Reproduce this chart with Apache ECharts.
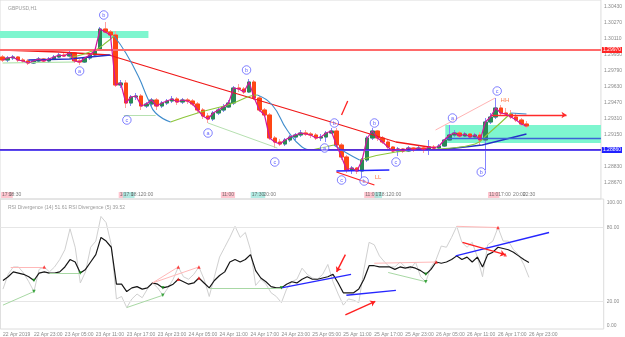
<!DOCTYPE html>
<html>
<head>
<meta charset="utf-8">
<script src="https://cdn.jsdelivr.net/npm/echarts@6/dist/echarts.min.js"></script>
<style>
  html, body { margin: 0; padding: 0; background: #fff; }
  #chart { width: 625px; height: 337px; }
</style>
</head>
<body>
<div id="chart"></div>
<script>
// GBPUSD H1, 22 Apr 17:00 .. 26 Apr 23:00 (103 bars), right margin left empty
const barCount = 103;
const slotCount = 117;

const opens = [
  1.2993,1.2990,1.2992,1.2993,1.2990,1.2989,1.2987,1.2989,1.2991,1.2989,
  1.2991,1.2993,1.2995,1.2994,1.2997,1.2989,1.2988,1.2992,1.2995,1.3000,
  1.3021,1.3018,1.3015,1.2965,1.2967,1.2947,1.2953,1.2954,1.2944,1.2946,
  1.2950,1.2944,1.2947,1.2949,1.2951,1.2948,1.2950,1.2949,1.2946,1.2940,
  1.2934,1.2931,1.2937,1.2940,1.2943,1.2947,1.2962,1.2961,1.2958,1.2968,
  1.2952,1.2940,1.2935,1.2912,1.2908,1.2906,1.2910,1.2913,1.2915,1.2917,
  1.2916,1.2915,1.2912,1.2913,1.2917,1.2919,1.2905,1.2893,1.2880,1.2882,
  1.2879,1.2890,1.2912,1.2919,1.2912,1.2908,1.2903,1.2899,1.2901,1.2899,
  1.2902,1.2900,1.2902,1.2900,1.2903,1.2902,1.2904,1.2910,1.2915,1.2917,
  1.2914,1.2916,1.2913,1.2915,1.2910,1.2928,1.2933,1.2942,1.2937,1.2936,
  1.2933,1.2930,1.2926
];
const closes = [
  1.2990,1.2992,1.2993,1.2990,1.2989,1.2987,1.2989,1.2991,1.2989,1.2991,
  1.2993,1.2995,1.2994,1.2997,1.2989,1.2988,1.2992,1.2995,1.3000,1.3021,
  1.3018,1.3015,1.2965,1.2967,1.2947,1.2953,1.2954,1.2944,1.2946,1.2950,
  1.2944,1.2947,1.2949,1.2951,1.2948,1.2950,1.2949,1.2946,1.2940,1.2934,
  1.2931,1.2937,1.2940,1.2943,1.2947,1.2962,1.2961,1.2958,1.2968,1.2952,
  1.2940,1.2935,1.2912,1.2908,1.2906,1.2910,1.2913,1.2915,1.2917,1.2916,
  1.2915,1.2912,1.2913,1.2917,1.2919,1.2905,1.2893,1.2880,1.2882,1.2879,
  1.2890,1.2912,1.2919,1.2912,1.2908,1.2903,1.2899,1.2901,1.2899,1.2902,
  1.2900,1.2902,1.2900,1.2903,1.2902,1.2904,1.2910,1.2915,1.2917,1.2914,
  1.2916,1.2913,1.2915,1.2910,1.2928,1.2933,1.2942,1.2937,1.2936,1.2933,
  1.2930,1.2926,1.2924
];
const lows = [
  1.2988,1.2988,1.2990,1.2988,1.2987,1.2985,1.2986,1.2987,1.2988,1.2987,
  1.2990,1.2992,1.2993,1.2993,1.2987,1.2985,1.2987,1.2990,1.2993,1.2999,
  1.3017,1.3013,1.2963,1.2962,1.2942,1.2944,1.2950,1.2940,1.2942,1.2944,
  1.2940,1.2942,1.2945,1.2947,1.2945,1.2946,1.2946,1.2944,1.2937,1.2931,
  1.2927,1.2929,1.2935,1.2938,1.2942,1.2945,1.2958,1.2956,1.2957,1.2950,
  1.2938,1.2933,1.2910,1.2902,1.2904,1.2904,1.2908,1.2910,1.2913,1.2914,
  1.2912,1.2910,1.2909,1.2908,1.2916,1.2903,1.2890,1.2877,1.2876,1.2876,
  1.2872,1.2888,1.2910,1.2909,1.2906,1.2901,1.2897,1.2894,1.2897,1.2898,
  1.2898,1.2899,1.2897,1.2895,1.2900,1.2901,1.2903,1.2909,1.2913,1.2912,
  1.2913,1.2911,1.2912,1.2905,1.2880,1.2926,1.2931,1.2935,1.2934,1.2931,
  1.2928,1.2924,1.2922
];
const highs = [
  1.2995,1.2994,1.2995,1.2994,1.2992,1.2991,1.2990,1.2993,1.2992,1.2993,
  1.2995,1.2997,1.2998,1.2999,1.2998,1.2991,1.2993,1.2996,1.3001,1.3023,
  1.3028,1.3020,1.3019,1.2970,1.2970,1.2955,1.2957,1.2956,1.2948,1.2952,
  1.2952,1.2949,1.2951,1.2954,1.2953,1.2952,1.2952,1.2951,1.2948,1.2942,
  1.2937,1.2939,1.2942,1.2946,1.2950,1.2964,1.2966,1.2963,1.2971,1.2970,
  1.2954,1.2942,1.2937,1.2914,1.2911,1.2912,1.2915,1.2917,1.2920,1.2920,
  1.2918,1.2917,1.2916,1.2919,1.2922,1.2922,1.2907,1.2895,1.2884,1.2883,
  1.2892,1.2914,1.2922,1.2920,1.2914,1.2910,1.2904,1.2903,1.2902,1.2904,
  1.2903,1.2904,1.2903,1.2910,1.2905,1.2906,1.2911,1.2925,1.2920,1.2919,
  1.2918,1.2917,1.2917,1.2918,1.2932,1.2937,1.2952,1.2945,1.2942,1.2940,
  1.2937,1.2932,1.2929
];

// RSI Divergence (14) black, RSI Divergence (5) grey
const rsi14 = [
  37,40,44,43,42,40,37,43,44,43, 43,44,48,54,52,43,46,52,58,72,
  69,64,34,34,28,31,32,30,31,35, 34,31,32,34,38,36,34,35,39,35,
  31,37,41,44,52,54,52,54,58,45, 39,36,32,31,31,34,36,35,38,40,
  38,38,39,40,42,35,27,27,27,30, 38,49,49,48,48,48,46,48,47,48,
  47,45,42,46,52,51,52,54,57,54, 56,52,56,48,58,60,64,63,62,60,
  57,54,51.61
];
const rsi5 = [
  30,42,48,48,43,36,28,46,48,44, 48,54,62,79,64,35,44,64,69,89,
  84,66,22,24,15,22,26,23,30,35, 31,25,31,38,48,40,38,42,48,38,
  24,40,56,64,72,81,72,76,62,33, 38,34,27,24,19,30,36,38,47,42,
  39,38,42,50,36,26,17,22,21,19, 46,68,66,57,52,48,48,52,48,46,
  52,40,36,48,54,65,64,72,81,68, 64,68,56,40,66,69,80,69,69,62,
  58,50,39.52
];

const priceTicks = [1.2867,1.2883,1.2899,1.2915,1.2931,1.2947,1.2963,1.2979,1.2995,1.3011,1.3027,1.3043];
const rsiTicks = [0, 20, 80, 100];

// horizontal price levels: top zone line, resistance, minor, last price, support
const levelPrices = [1.2997, 1.2939, 1.2931, 1.2924, 1.2886];

// lines on a bar-position axis: [bar, price]
const redMA = [[0,1.3000],[11,1.2998],[20.7,1.2995],[38,1.2968],[64.6,1.2927],[76.6,1.2908],[84.3,1.2902]];
const navyMA = [
  [[5,1.2990],[13,1.2991],[21,1.2995]],
  [[76.6,1.2900],[84.9,1.2900],[93.4,1.2905],[102,1.2916]]
];
const curveFlat = [[0,1.2987],[14,1.2988]];
const curveUp = [
  [[13,1.2992],[18,1.3000],[20.3,1.3008],[21.7,1.3014]],
  [[32.7,1.2928],[38,1.2937],[44.4,1.2946],[48.3,1.2954],[49.6,1.2955]],
  [[60.2,1.2900],[64.5,1.2905]],
  [[69.5,1.2890],[76.6,1.2898],[85,1.2901],[92,1.2906],[94.5,1.2916],[99,1.2937]]
];
const curveDown = [
  [[21.7,1.3014],[24,1.2997],[26.5,1.2973],[28.4,1.2950],[29.8,1.2937],[32.7,1.2928]],
  [[49.6,1.2955],[52.5,1.2945],[55.4,1.2920],[58.3,1.2903],[60.2,1.2900]],
  [[64.5,1.2905],[67,1.2897],[69.5,1.2890]],
  [[99,1.2937],[102,1.2936]]
];

const zones = [
  [[-0.5,1.3019],[28.4,1.3012]],
  [[86.2,1.2925],[116.5,1.2907]]
];
const zoneMid = [[[86.2,1.2912],[116.5,1.2912]]];
const pinkTrend = [[[84.3,1.2920],[95.9,1.2952]]];
const greenTrend = [[[23.6,1.2935],[29.8,1.2935]],[[40,1.2927],[53.5,1.2902]]];
const blueTrend = [[[65,1.2879],[75.3,1.2880]]];
const redTrend = [[[66,1.2935],[67.2,1.2949]],[[65,1.2878],[72.4,1.2865]]];
const redArrow = [[[95,1.2935],[109.8,1.2935]]];

const waveMarks = [
  [19.7,1.3035,'b'],[15,1.2979,'a'],[24.2,1.2930,'c'],[40,1.2917,'a'],[47.5,1.2980,'b'],
  [53,1.2888,'c'],[62.7,1.2902,'a'],[64.6,1.2927,'b'],[72.4,1.2927,'b'],[66,1.2870,'c'],
  [70.4,1.2869,'b'],[76.6,1.2888,'c'],[87.6,1.2932,'a'],[93.2,1.2878,'b'],[96.3,1.2959,'c']
];
const textMarks = [[97.8,1.2950,'HH'],[73.1,1.2873,'LL']];

// vertical-line time tags along the bottom of the price panel (kind: 1 pink, 2 teal, 0 plain)
const tagPrice = 1.2855;
const timeTags = [
  [-0.3,'17:0',1],[1,'18:30',0],[22.6,'18',1],[23.4,'17:0',2],[24.8,'18:120:00',0],
  [42.5,'11:00',1],[48.3,'17:30',2],[50.6,'20:00',0],
  [70.4,'11:00',1],[72.4,'17',2],[73.1,'18:120:00',0],
  [94.5,'11:0',1],[96.3,'17:00',0],[99.2,'20:00',0],[101.1,'22:30',0]
];

// indicator divergence lines and markers: [bar, rsi]
const divGreen = [[[0,17],[6,28]],[[9,43],[15,43]],[[24,15],[31,25]],[[40,31],[54,31]],[[74.7,43.5],[82,36]]];
const divPink = [[[1.5,48],[8,48]],[[29,35],[34,48]],[[29,35],[38,48]],[[72,51],[84,52]],[[88,81],[96,80]]];
const divBlue = [[[54,31],[67.5,42]],[[66.6,25],[76.2,29]],[[87.8,57],[105.9,76]]];
const divRed = [[[66.4,58],[64.7,44]],[[66.4,9],[72.2,20]],[[89.1,68],[97.4,58]]];
const markGreen = [[6,37],[6,28],[15,43],[31,31],[31,25],[54,31],[82,42],[82,36]];
const markRed = [[8,48],[34,48],[34,38],[38,48],[38,39],[84,52],[96,80],[97.4,58]];

// hourly category names
const categories = [];
const t0 = Date.UTC(2019, 3, 22, 17);
for (let i = 0; i < slotCount; i++) {
  const d = new Date(t0 + i * 3600e3);
  categories.push(d.getUTCDate() + ' Apr ' + String(d.getUTCHours()).padStart(2, '0') + ':00');
}

const candleRows = opens.map((o, i) => [o, closes[i], lows[i], highs[i]]);
const bodyRows = opens.map((o, i) => [o, closes[i], Math.min(o, closes[i]), Math.max(o, closes[i])]);

function segs(list, color, width, arrow) {
  return list.map(s => [
    { coord: s[0], symbol: 'none', lineStyle: { color: color, width: width, type: 'solid' } },
    { coord: s[1], symbol: arrow ? 'arrow' : 'none', symbolSize: 5 }
  ]);
}
function pathSeries(points, color, width, xi, yi, smooth) {
  return {
    type: 'line', xAxisIndex: xi, yAxisIndex: yi, data: points, smooth: !!smooth,
    symbol: 'none', silent: true, z: 4,
    lineStyle: { color: color, width: width }
  };
}

const levelStyle = [
  { line: '#ff6a6a', width: 2, tag: '#ff2626' },
  { line: '#ff1e1e', width: 1.5, tag: '#ff1e1e' },
  { line: '#ffc4c4', width: 1, tag: '#ff5c5c' },
  { line: 'rgba(0,0,0,0)', width: 1, tag: '#5d6b78' },
  { line: '#2222ff', width: 1.5, tag: '#2222ff' }
];
const tagBg = ['transparent', '#ffb8c4', '#9fe6dc'];

const small = 5;
const labelGrey = '#8a8a8a';

const series = [
  { // zones behind the candles
    type: 'line', xAxisIndex: 1, yAxisIndex: 0, data: [], z: 1,
    markArea: { silent: true, itemStyle: { color: '#7ef6cf' },
      data: zones.map(z => [{ coord: z[0] }, { coord: z[1] }]) }
  },
  { // wicks
    type: 'candlestick', xAxisIndex: 0, yAxisIndex: 0, data: candleRows, barWidth: 4, z: 2, silent: true,
    itemStyle: { color: '#8484ff', color0: '#ff9f9f', borderColor: '#8484ff', borderColor0: '#ff9f9f', borderWidth: 1 }
  },
  { // bodies
    type: 'candlestick', xAxisIndex: 0, yAxisIndex: 0, data: bodyRows, barWidth: 4, z: 3, silent: true,
    itemStyle: { color: '#2a8a55', color0: '#ff4614', borderColor: '#2a8a55', borderColor0: '#ff4614', borderWidth: 1 }
  },
  pathSeries(redMA, '#f01818', 1.3, 1, 0),
  pathSeries(navyMA[0], '#2530c8', 1.3, 1, 0),
  pathSeries(navyMA[1], '#2530c8', 1.3, 1, 0),
  pathSeries(curveFlat, '#a6dfa0', 1, 1, 0),
  ...curveUp.map(c => pathSeries(c, '#8cc63a', 1.1, 1, 0, true)),
  ...curveDown.map(c => pathSeries(c, '#3f8ccc', 1.1, 1, 0, true)),
  { // close line
    type: 'line', xAxisIndex: 0, yAxisIndex: 0, data: closes, symbol: 'none', silent: true, z: 5,
    lineStyle: { color: '#d0169e', width: 1.2 }
  },
  { // trend lines and levels
    type: 'line', xAxisIndex: 1, yAxisIndex: 0, data: [], z: 6,
    markLine: {
      silent: true, symbol: ['none', 'none'], animation: false,
      label: { show: false },
      data: [
        ...segs(zoneMid, '#3d63d6', 1.3),
        ...segs(pinkTrend, '#ffb4b4', 1),
        ...segs(greenTrend, '#b6e0b0', 1),
        ...segs(blueTrend, '#2222ff', 1.3),
        ...segs(redTrend, '#ff2020', 1.3),
        ...segs(redArrow, '#ff2a2a', 1.3, true),
        ...levelPrices.map((p, k) => ({
          yAxis: p, symbol: 'none',
          lineStyle: { color: levelStyle[k].line, width: levelStyle[k].width, type: 'solid' },
          label: { show: true, position: 'end', distance: 1, formatter: p.toFixed(5),
            color: '#fff', backgroundColor: levelStyle[k].tag, fontSize: small, padding: [1, 1, 0, 1] }
        }))
      ]
    }
  },
  { // wave letters
    type: 'scatter', xAxisIndex: 1, yAxisIndex: 0, z: 7, silent: true,
    data: waveMarks, symbol: 'circle', symbolSize: 8.5,
    itemStyle: { color: 'rgba(255,255,255,0.6)', borderColor: '#3b3bff', borderWidth: 0.8 },
    label: { show: true, position: 'inside', formatter: p => p.value[2], fontSize: 5.5, color: '#3b3bff' }
  },
  {
    type: 'scatter', xAxisIndex: 1, yAxisIndex: 0, z: 7, silent: true,
    data: textMarks, symbolSize: 0.1,
    label: { show: true, position: 'inside', formatter: p => p.value[2], fontSize: 6, color: '#ff5a1e' }
  },
  {
    type: 'scatter', xAxisIndex: 1, yAxisIndex: 0, z: 7, silent: true, symbolSize: 0.1,
    data: timeTags.map(t => ({ value: [t[0], tagPrice, t[1]],
      label: { backgroundColor: tagBg[t[2]] } })),
    label: { show: true, position: 'right', distance: 0, formatter: p => p.value[2],
      fontSize: small, color: '#555', padding: [1, 1, 0, 1] }
  },
  // indicator panel
  {
    type: 'line', xAxisIndex: 2, yAxisIndex: 1, data: rsi5, symbol: 'none', silent: true, z: 2,
    lineStyle: { color: '#d0d0d0', width: 1 }
  },
  {
    type: 'line', xAxisIndex: 2, yAxisIndex: 1, data: rsi14, symbol: 'none', silent: true, z: 3,
    lineStyle: { color: '#161616', width: 1.2 }
  },
  {
    type: 'line', xAxisIndex: 3, yAxisIndex: 1, data: [], z: 4,
    markLine: {
      silent: true, symbol: ['none', 'none'], animation: false, label: { show: false },
      data: [
        { yAxis: 80, lineStyle: { color: '#e6e6e6', width: 1, type: 'solid' } },
        { yAxis: 20, lineStyle: { color: '#e6e6e6', width: 1, type: 'solid' } },
        ...segs(divGreen, '#a8d8a4', 1),
        ...segs(divPink, '#ffb8b8', 1),
        ...segs(divBlue, '#2626ff', 1.4),
        ...segs(divRed, '#ff2020', 1.4, true)
      ]
    }
  },
  {
    type: 'scatter', xAxisIndex: 3, yAxisIndex: 1, data: markGreen, symbol: 'triangle', symbolSize: 3.5,
    symbolRotate: 180, itemStyle: { color: '#17961c' }, silent: true, z: 5
  },
  {
    type: 'scatter', xAxisIndex: 3, yAxisIndex: 1, data: markRed, symbol: 'triangle', symbolSize: 3.5,
    itemStyle: { color: '#ff1a1a' }, silent: true, z: 5
  }
];

const option = {
  animation: false,
  backgroundColor: '#ffffff',
  textStyle: { fontFamily: 'Liberation Sans, Arial, sans-serif' },
  title: [
    { text: 'GBPUSD,H1', left: 3, top: 1, textStyle: { fontSize: small, color: '#9a9a9a', fontWeight: 'normal' } },
    { text: 'RSI Divergence (14) 51.61 RSI Divergence (5) 39.52', left: 3, top: 200,
      textStyle: { fontSize: small, color: '#9a9a9a', fontWeight: 'normal' } }
  ],
  grid: [
    { left: 0, right: 18, top: 0, height: 199, show: true, borderColor: '#dcdcdc', borderWidth: 1, backgroundColor: 'transparent' },
    { left: 0, right: 18, top: 199, height: 131, show: true, borderColor: '#dcdcdc', borderWidth: 1, backgroundColor: 'transparent' }
  ],
  xAxis: [
    { type: 'category', gridIndex: 0, data: categories, boundaryGap: true,
      axisLine: { show: false }, axisTick: { show: false }, axisLabel: { show: false }, splitLine: { show: false } },
    { type: 'value', gridIndex: 0, min: -0.5, max: slotCount - 0.5, show: false },
    { type: 'category', gridIndex: 1, data: categories, boundaryGap: true,
      axisLine: { show: false }, axisTick: { show: false }, splitLine: { show: false },
      axisLabel: {
        interval: (idx) => idx % 6 === 0 && idx < barCount,
        formatter: (v, idx) => idx === 0 ? '22 Apr 2019' : v,
        align: 'left', fontSize: small, color: labelGrey, margin: 3
      } },
    { type: 'value', gridIndex: 1, min: -0.5, max: slotCount - 0.5, show: false }
  ],
  yAxis: [
    { type: 'value', gridIndex: 0, position: 'right', min: 1.2851, max: 1.3050,
      splitLine: { show: false },
      axisLine: { show: false },
      axisTick: { show: false },
      axisLabel: { fontSize: small, color: labelGrey, margin: 3, customValues: priceTicks,
        formatter: v => v.toFixed(5) } },
    { type: 'value', gridIndex: 1, position: 'right', min: -2.42, max: 103.2,
      splitLine: { show: false },
      axisLine: { show: false },
      axisTick: { show: false },
      axisLabel: { fontSize: small, color: labelGrey, margin: 3, customValues: rsiTicks,
        formatter: v => v.toFixed(2) } }
  ],
  series: series
};

const chart = echarts.init(document.getElementById('chart'));
chart.setOption(option);
</script>
</body>
</html>
